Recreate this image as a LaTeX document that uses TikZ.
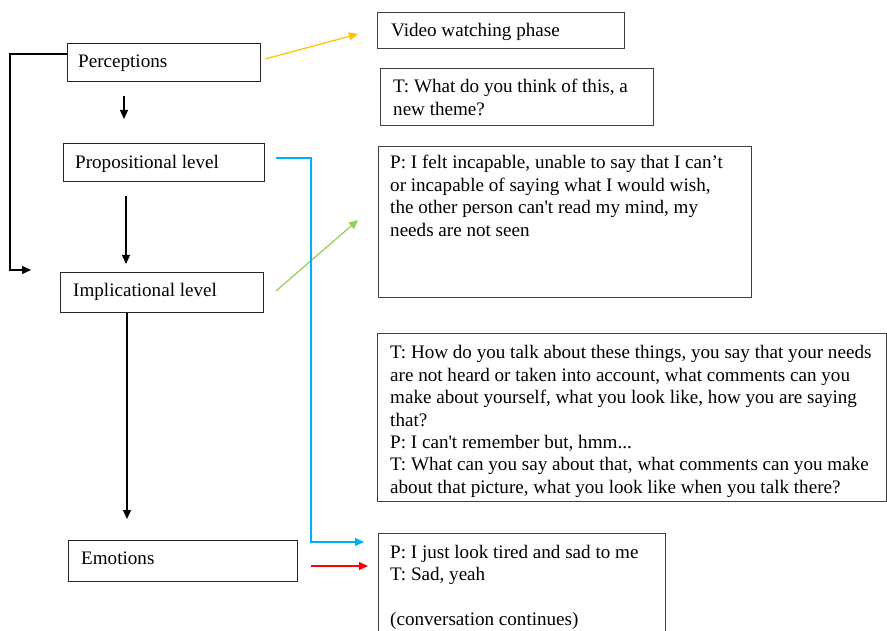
\documentclass[tikz,border=0pt]{standalone}
\usepackage{fontspec}
\setmainfont{Liberation Serif}[Ligatures=TeXOff]
\usetikzlibrary{arrows.meta}
\definecolor{corange}{HTML}{FFC000}
\definecolor{cblue}{HTML}{00B0F0}
\definecolor{cgreen}{HTML}{92D050}
\definecolor{cred}{HTML}{FF0000}
\definecolor{boxgray}{HTML}{404040}
\newcommand{\mylines}[1]{\begin{tabular}[t]{@{}l@{}}#1\end{tabular}}
\tikzset{
  box/.style={draw=boxgray, line width=1pt, rectangle, anchor=north west, inner sep=0pt},
  lbox/.style={draw=black!85, line width=1pt, rectangle, anchor=north west, inner sep=0pt},
  txt/.style={anchor=base west, inner sep=0pt, font=\fontsize{19.1}{22.4}\selectfont},
  arr/.style={line width=1.3pt, -{Triangle[length=9pt,width=8pt]}},
  carr/.style={line width=1.2pt, -{Triangle[length=9pt,width=8pt]}},
}
\begin{document}
\begin{tikzpicture}[x=1pt,y=-1pt]
\useasboundingbox (0,0) rectangle (887,631);
\clip (0,0) rectangle (887,631);
% left boxes
\node[lbox, minimum width=193pt, minimum height=38pt] (perc) at (67,43) {};
\node[txt] (perct) at (78,68) {Perceptions};
\node[lbox, minimum width=201pt, minimum height=38pt] (prop) at (63,143) {};
\node[txt] (propt) at (75,169) {Propositional level};
\node[lbox, minimum width=203pt, minimum height=40pt] (impl) at (60,272) {};
\node[txt] (implt) at (73,297) {Implicational level};
\node[lbox, minimum width=229pt, minimum height=41pt] (emo) at (68,540) {};
\node[txt] (emot) at (81,564) {Emotions};
% right boxes
\node[box, minimum width=247pt, minimum height=36pt] (video) at (377,12) {};
\node[txt] (videot) at (391,37) {Video watching phase};
\node[box, minimum width=273pt, minimum height=57pt] (tq) at (380,68) {};
\node[txt] (tqt) at (393,93) {\mylines{T: What do you think of this, a\\new theme?}};
\node[box, minimum width=373pt, minimum height=151pt] (pbox) at (378,146) {};
\node[txt] (pboxt) at (390,169) {\mylines{P: I felt incapable, unable to say that I can’t\\or incapable of saying what I would wish,\\the other person can't read my mind, my\\needs are not seen}};
\node[box, minimum width=509pt, minimum height=168pt] (tlong) at (377,333) {};
\node[txt] (tlongt) at (390,359) {\mylines{T: How do you talk about these things, you say that your needs\\are not heard or taken into account, what comments can you\\make about yourself, what you look like, how you are saying\\that?\\P: I can't remember but, hmm...\\T: What can you say about that, what comments can you make\\about that picture, what you look like when you talk there?}};
\node[box, minimum width=287pt, minimum height=110pt] (last) at (378,533) {};
\node[txt] (lastt) at (390,558) {\mylines{P: I just look tired and sad to me\\T: Sad, yeah\\ \\(conversation continues)}};
% coordinates for free ends
\coordinate (a1s) at (124,96);
\coordinate (a1e) at (124,119);
\coordinate (a2s) at (126,196);
\coordinate (a2e) at (126,264);
\coordinate (a3e) at (127,519);
\coordinate (loopend) at (31,270);
\coordinate (os) at (265,59);
\coordinate (oe) at (358,34);
\coordinate (gs) at (276,291);
\coordinate (ge) at (358,220);
\coordinate (bs) at (276,158);
\coordinate (be) at (364,542);
\coordinate (rs) at (311,566);
\coordinate (re) at (368,566);
% black connectors
\draw[arr] (a1s) -- (a1e);
\draw[arr] (a2s) -- (a2e);
\draw[arr] (impl.south -| a3e) -- (a3e);
\draw[arr] (perc.west |- 0,54) -- (10,54) -- (10,270) -- (loopend);
% coloured connectors
\draw[carr, corange] (os) -- (oe);
\draw[carr, cgreen] (gs) -- (ge);
\draw[carr, cblue] (bs) -- (311,158) -- (311,542) -- (be);
\draw[carr, cred] (rs) -- (re);
\end{tikzpicture}
\end{document}
